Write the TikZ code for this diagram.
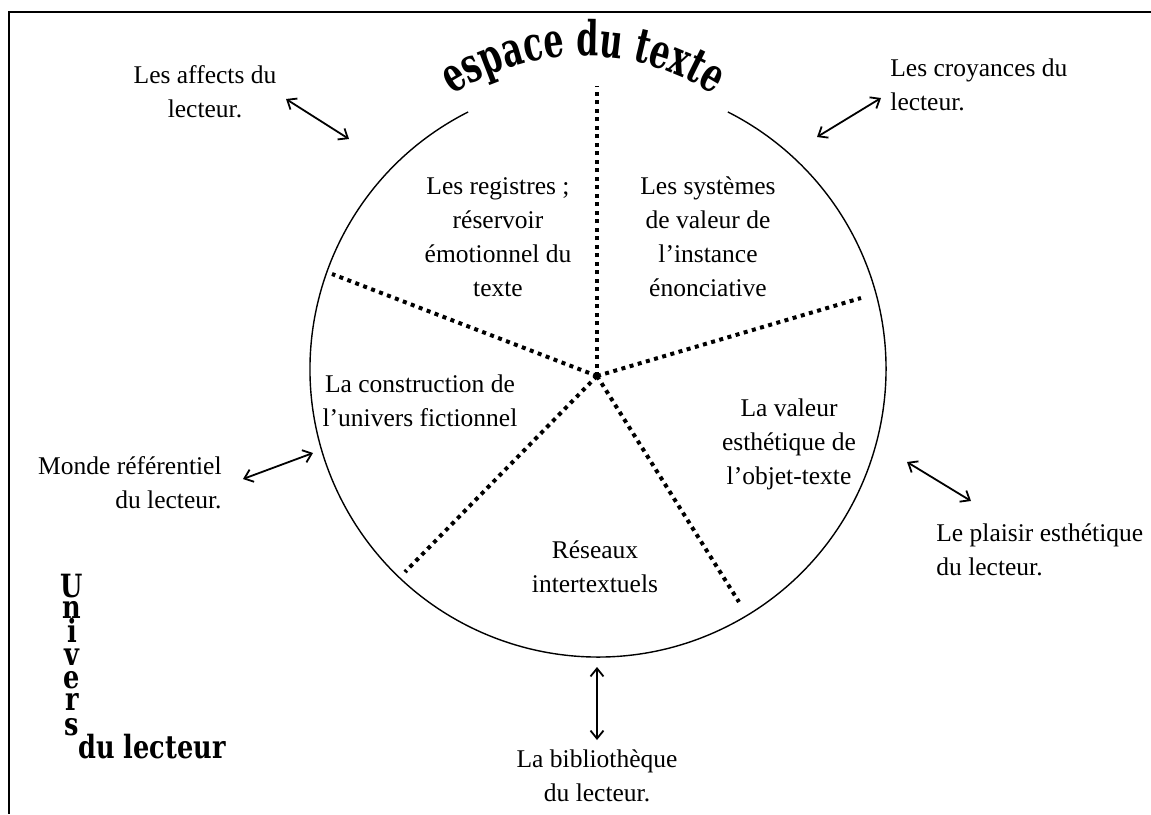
\documentclass[tikz,border=0pt]{standalone}
\usepackage{fontspec}
\setmainfont{Liberation Serif}
\newfontfamily\titlefont[FakeStretch=0.66]{DejaVu Serif}
\newfontfamily\univfont[FakeStretch=0.8]{DejaVu Serif}
\usepackage{tikz}
\usetikzlibrary{arrows.meta}
\usetikzlibrary{decorations.text}
\tikzset{>={Straight Barb[length=8pt,width=13pt]}}

\begin{document}
\begin{tikzpicture}[x=1pt, y=-1pt, thick,
            every node/.style={font=\fontsize{25.5}{34}\selectfont, inner sep=0pt},
            sector/.style={align=center},
            univ/.style={font=\univfont\bfseries\fontsize{32}{32}\selectfont},
            link/.style={<->, line width=1.8pt},
            divider/.style={line width=4pt, dash pattern=on 4pt off 4.5pt}]
            \useasboundingbox (0,0) rectangle (1151,814);
            \draw[line width=1.6pt] (1151,12) -- (9,12) -- (9,814);
            \coordinate (centre) at (598,369);
            \coordinate (hub) at (597,376);
            \draw[line width=1.4pt] ([shift={(-116.8:288)}]centre) arc[start angle=-116.8, end angle=-423.2, radius=288];
            \path[decorate, decoration={text along path, text align=center,
                text={|\titlefont\bfseries\fontsize{48}{48}\selectfont|espace du texte}}]
                ([shift={(-150:240)}]583,296) arc[start angle=-150, end angle=-30, radius=240];
            \coordinate (div-n) at (597,86);
            \coordinate (div-ne) at (861,298);
            \coordinate (div-se) at (739,602);
            \coordinate (div-sw) at (405,572);
            \coordinate (div-nw) at (332,274);
            \foreach \d in {n, ne, se, sw, nw}
                \draw[divider] (hub) -- (div-\d);
            \node[sector] (registres) at (498,237) {Les registres ;\\réservoir\\émotionnel du\\texte};
            \node[sector] (systemes) at (708,237) {Les systèmes\\de valeur de\\l’instance\\énonciative};
            \node[sector] (construction) at (420,401) {La construction de\\l’univers fictionnel};
            \node[sector] (valeur) at (789,444) {La valeur\\esthétique de\\l’objet-texte};
            \node[sector] (reseaux) at (595,567) {Réseaux\\intertextuels};
            \node[align=center] (affects) at (205,92) {Les affects du\\lecteur.};
            \node[align=left, anchor=west] (croyances) at (890,85) {Les croyances du\\lecteur.};
            \node[align=right, anchor=east] (monde) at (222,483) {Monde référentiel\\du lecteur.};
            \node[align=left, anchor=west] (plaisir) at (936,550) {Le plaisir esthétique\\du lecteur.};
            \node[align=center] (biblio) at (597,776) {La bibliothèque\\du lecteur.};
            \coordinate (affects-a) at (286,99);
            \coordinate (affects-b) at (349,139);
            \coordinate (croyances-a) at (817,137);
            \coordinate (croyances-b) at (881,98);
            \coordinate (monde-a) at (243,479);
            \coordinate (monde-b) at (313,453);
            \coordinate (plaisir-a) at (907,462);
            \coordinate (plaisir-b) at (971,501);
            \coordinate (biblio-a) at (597,667);
            \coordinate (biblio-b) at (597,740);
            \foreach \l in {affects, croyances, monde, plaisir, biblio}
                \draw[link] (\l-a) -- (\l-b);
            \foreach \ch/\yy in {U/597, n/618, i/642, v/665, e/688, r/710, s/735}
                \node[univ, anchor=base] (univ-\ch) at (72,\yy) {\ch};
            \node[univ, anchor=base west] (lecteur) at (78,758) {du lecteur};
        \end{tikzpicture}
\end{document}
